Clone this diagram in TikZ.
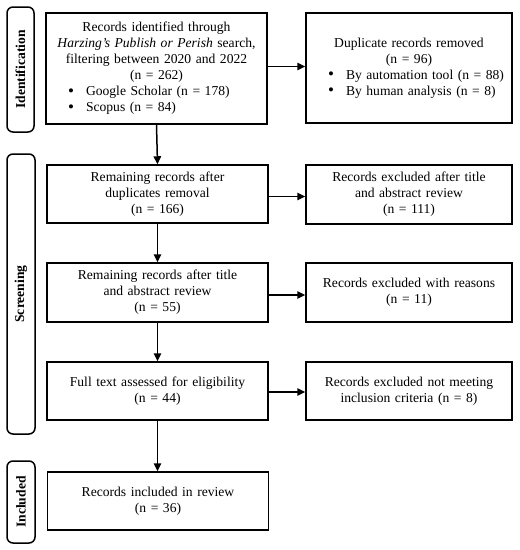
\documentclass[tikz,border=0pt]{standalone}
\usepackage{fontspec}
\setmainfont{Liberation Serif}
\usetikzlibrary{arrows.meta}
\tikzset{
  boxL/.style={draw, line width=1.5pt, inner sep=0pt, minimum width=221pt, text width=221pt, align=center, font=\fontsize{13.6}{16}\selectfont},
  boxR/.style={draw, line width=1.5pt, inner sep=0pt, minimum width=206pt, text width=206pt, align=center, font=\fontsize{13.6}{16}\selectfont},
  side/.style={draw, line width=1.5pt, rounded corners=6pt, rotate=90, inner sep=0pt, font=\fontsize{13.6}{16}\selectfont\bfseries},
  arr/.style={line width=1.5pt, -{Triangle[length=8pt,width=7.5pt]}}
}
\newcommand{\bitem}[1]{\hspace*{22pt}\makebox[18pt][l]{\raisebox{-0.3pt}{\scalebox{1.25}{\textbullet}}}#1}
\begin{document}
\begin{tikzpicture}[x=1pt,y=-1pt]
\useasboundingbox (0,0) rectangle (520,550);
% side labels
\node[side, minimum width=125pt, minimum height=27pt] (sid) at (20.5,69.5) {Identification};
\node[side, minimum width=280pt, minimum height=28pt] (ssc) at (21,294) {Screening};
\node[side, minimum width=82pt, minimum height=28pt] (sin) at (21,502) {Included};
% boxes
\node[boxL, minimum height=111pt] (b1) at (156.5,68.5) {%
  {\centering Records identified through\\ \textit{Harzing’s Publish or Perish} search,\\ filtering between 2020 and 2022\\ (n = 262)\par}
  \raggedright\bitem{Google Scholar (n = 178)}\\ \bitem{Scopus (n = 84)}\par};
\node[boxR, minimum height=110pt] (b2) at (409,68) {%
  {\centering Duplicate records removed\\ (n = 96)\par}
  \raggedright\bitem{By automation tool (n = 88)}\\ \bitem{By human analysis (n = 8)}\par};
\node[boxL, minimum height=58pt] (b3) at (157.5,194) {Remaining records after\\ duplicates removal\\ (n = 166)};
\node[boxR, minimum height=59pt] (b4) at (409,194.5) {Records excluded after title\\ and abstract review\\ (n = 111)};
\node[boxL, minimum height=59pt] (b5) at (157.5,292.5) {Remaining records after title\\ and abstract review\\ (n = 55)};
\node[boxR, minimum height=59pt] (b6) at (409,292.5) {Records excluded with reasons\\ (n = 11)};
\node[boxL, minimum height=58pt] (b7) at (157.5,391) {Full text assessed for eligibility\\ (n = 44)};
\node[boxR, minimum height=58pt] (b8) at (409,391) {Records excluded not meeting\\ inclusion criteria (n = 8)};
\node[boxL, minimum height=58pt] (b9) at (158,501) {Records included in review\\ (n = 36)};
% arrows
\draw[arr] ([yshift=2pt]b1.east) -- ([yshift=2pt]b2.west |- b1.east);
\draw[arr] ([yshift=-2.5pt]b3.east) -- ([yshift=-2.5pt]b4.west |- b3.east);
\draw[arr] ([yshift=-2.5pt]b5.east) -- ([yshift=-2.5pt]b6.west |- b5.east);
\draw[arr] ([yshift=-1pt]b7.east) -- ([yshift=-1pt]b8.west |- b7.east);
\draw[arr] (b1.south) -- (b3.north);
\draw[arr] (b3.south) -- (b5.north);
\draw[arr] (b5.south) -- (b7.north);
\draw[arr] (b7.south) -- (b7.south |- b9.north);
\end{tikzpicture}
\end{document}
